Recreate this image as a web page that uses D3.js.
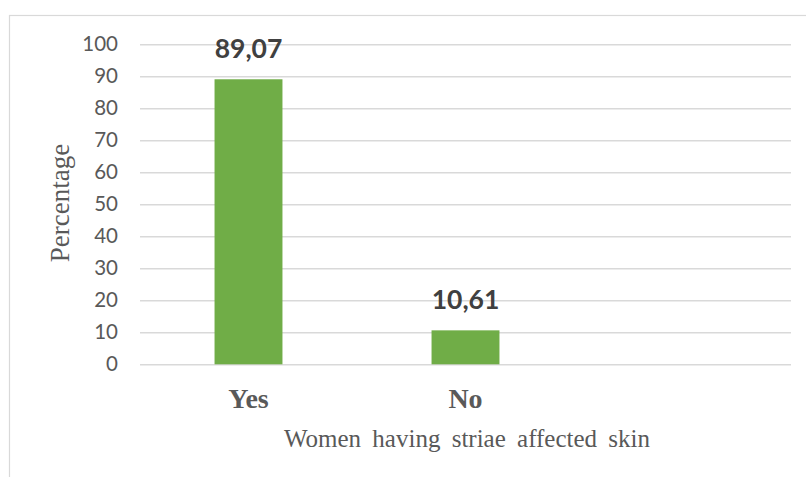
<!DOCTYPE html>
<html>
<head>
<meta charset="utf-8">
<script src="https://cdn.jsdelivr.net/npm/d3@7/dist/d3.min.js"></script>
<style>
  html, body { margin: 0; padding: 0; background: #fff; }
  svg { display: block; }
</style>
</head>
<body>
<svg id="chart" width="806" height="477"></svg>
<script>
// Data
const categories = ["Yes", "No", ""];
const values = [89.07, 10.61, null];
const valueLabels = ["89,07", "10,61", ""];
const yTicks = [0, 10, 20, 30, 40, 50, 60, 70, 80, 90, 100];
const xTitle = "Women having striae affected skin";
const yTitle = "Percentage";

const W = 806, H = 477;
const margin = { left: 140, right: 15, top: 44.3, bottom: 112.7 };
const svg = d3.select("#chart");

// chart border
svg.append("rect")
  .attr("x", 9.5).attr("y", 15.5)
  .attr("width", 806).attr("height", 480)
  .attr("fill", "#fff").attr("stroke", "#D9D9D9").attr("stroke-width", 1.2);

const x = d3.scaleBand()
  .domain(categories)
  .range([margin.left, W - margin.right])
  .paddingInner(0.687).paddingOuter(0.3435);

const y = d3.scaleLinear()
  .domain([0, 100])
  .range([H - margin.bottom, margin.top]);

// gridlines
const yAxis = d3.axisLeft(y)
  .tickValues(yTicks)
  .tickSize(-(W - margin.right - margin.left))
  .tickPadding(22)
  .tickFormat(d3.format("d"));

const gy = svg.append("g")
  .attr("transform", `translate(${margin.left},0)`)
  .call(yAxis);
gy.select(".domain").remove();
gy.selectAll(".tick line").attr("stroke", "#D9D9D9").attr("stroke-width", 1.5);
gy.selectAll(".tick text")
  .attr("fill", "#595959")
  .style("font-family", "Lato, 'Open Sans', sans-serif")
  .style("font-size", "20.5px");

// bars
const data = categories.map((c, i) => ({ c, v: values[i], label: valueLabels[i] }))
  .filter(d => d.v != null);

svg.append("g").selectAll("rect")
  .data(data).join("rect")
  .attr("x", d => x(d.c))
  .attr("width", x.bandwidth())
  .attr("y", d => y(d.v))
  .attr("height", d => y(0) - y(d.v))
  .attr("fill", "#70AD47");

// value labels
svg.append("g").selectAll("text")
  .data(data).join("text")
  .attr("x", d => x(d.c) + x.bandwidth() / 2)
  .attr("y", d => y(d.v) - 21)
  .attr("text-anchor", "middle")
  .attr("fill", "#404040")
  .style("font-family", "Lato, 'Open Sans', sans-serif")
  .style("font-weight", "bold")
  .style("font-size", "26.5px")
  .text(d => d.label);

// x axis category labels
const xAxis = d3.axisBottom(x).tickSize(0).tickPadding(0);
const gx = svg.append("g")
  .attr("transform", `translate(0,${y(0)})`)
  .call(xAxis);
gx.select(".domain").remove();
gx.selectAll(".tick text")
  .attr("dy", null)
  .attr("y", 44)
  .attr("fill", "#595959")
  .style("font-family", "'Liberation Serif', 'Times New Roman', serif")
  .style("font-weight", "bold")
  .style("font-size", "28px");

// axis titles
svg.append("text")
  .attr("x", 467).attr("y", 447)
  .attr("text-anchor", "middle")
  .attr("fill", "#595959")
  .style("font-family", "'Liberation Serif', 'Times New Roman', serif")
  .style("font-size", "25px")
  .style("word-spacing", "5px")
  .text(xTitle);

svg.append("text")
  .attr("transform", `translate(69,203) rotate(-90)`)
  .attr("text-anchor", "middle")
  .attr("fill", "#595959")
  .style("font-family", "'Liberation Serif', 'Times New Roman', serif")
  .style("font-size", "27px")
  .text(yTitle);
</script>
</body>
</html>
